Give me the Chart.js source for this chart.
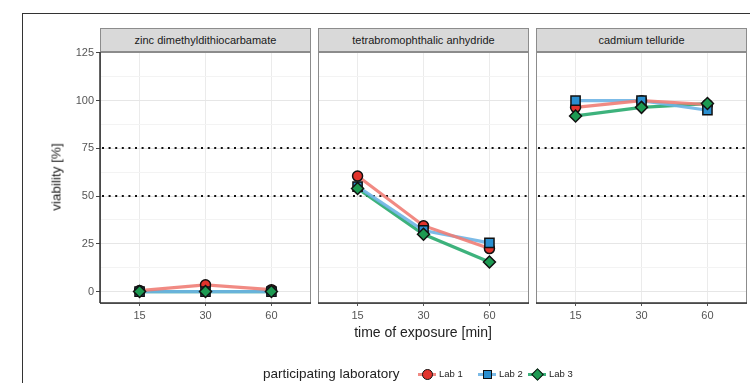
<!DOCTYPE html>
<html>
<head>
<meta charset="utf-8">
<script src="https://cdn.jsdelivr.net/npm/chart.js@4"></script>
<style>
  html, body { margin: 0; padding: 0; background: #fff; }
  body { width: 750px; height: 383px; position: relative; overflow: hidden;
         font-family: "Liberation Sans", Arial, sans-serif; }
  .frame { position: absolute; left: 22px; top: 13px; width: 800px; height: 420px;
           border-left: 1.5px solid #333; border-top: 1.5px solid #333; }
  .strip { position: absolute; top: 28px; height: 24px; background: #d9d9d9;
           border: 1px solid #8c8c8c; font-size: 11px; color: #1a1a1a;
           text-align: center; line-height: 23px; box-sizing: border-box; }
  canvas { position: absolute; }
  .ytitle { position: absolute; left: 56px; top: 177px; font-size: 13.5px; color: #222;
            transform: translate(-50%, -50%) rotate(-90deg); white-space: nowrap; }
  .xtitle { position: absolute; left: 423px; top: 332px; font-size: 14px; color: #222;
            transform: translate(-50%, -50%); white-space: nowrap; }
  .legend { position: absolute; left: 0; top: 367px; width: 750px; height: 14px; }
  .legend .title { position: absolute; left: 263px; top: 0; line-height: 14px;
                   font-size: 13.5px; color: #222; white-space: nowrap; }
  .legend .lab { position: absolute; top: 0; line-height: 14px; font-size: 9.5px;
                 color: #222; white-space: nowrap; }
  .key { position: absolute; top: 0; width: 18px; height: 14px; }
  .key .ln { position: absolute; left: 0; right: 0; top: 5.5px; height: 3px; }
  .key .mk { position: absolute; left: 50%; top: 50%; border: 1.5px solid #111; box-sizing: border-box; }
</style>
</head>
<body>
<div class="frame"></div>
<div id="panels"></div>
<div class="ytitle">viability [%]</div>
<div class="xtitle">time of exposure [min]</div>
<div class="legend" id="legend"></div>
<script>
// values, one row per chemical (15, 30, 60 min)
const exposure = ["15", "30", "60"];
const chemicals = ["zinc dimethyldithiocarbamate", "tetrabromophthalic anhydride", "cadmium telluride"];
const labs = ["Lab 1", "Lab 2", "Lab 3"];
const lab1 = [[0.5, 3.5, 1], [60.5, 34.5, 22.5], [96.5, 100, 98]];
const lab2 = [[0, 0, 0], [55, 32, 25.5], [100, 100, 95]];
const lab3 = [[0, 0, 0], [54, 30, 15.5], [92, 96.5, 98.5]];
const yTicks = [0, 25, 50, 75, 100, 125];
const yGrid = [0, 12.5, 25, 37.5, 50, 62.5, 75, 87.5, 100, 112.5, 125];
const thresholds = [50, 75];

const labData = [lab1, lab2, lab3];
const lineColors = ["rgba(240,125,118,0.9)", "rgba(110,180,228,0.9)", "rgba(40,170,110,0.9)"];
const fillColors = ["#e2332c", "#2a8fd0", "#1d9a52"];
const shapes = ["circle", "rect", "rectRot"];
const radii = [5, 6.5, 6];

const panelLeft = [100, 318, 536];
const panelW = 211, plotTop = 52, plotH = 251, padTop = 10, xAxisH = 30;
const tickFont = { family: "Liberation Sans", size: 11 };
const keyCenters = [427, 487, 537];

const panelDecor = {
  id: "panelDecor",
  beforeDatasetsDraw(chart) {
    const { ctx, chartArea: a, scales: { y } } = chart;
    ctx.save();
    ctx.strokeStyle = "#111";
    ctx.lineWidth = 2;
    ctx.setLineDash([2, 4.6]);
    thresholds.forEach((t) => {
      const py = Math.round(y.getPixelForValue(t));
      ctx.beginPath();
      ctx.moveTo(a.left + 2, py);
      ctx.lineTo(a.right, py);
      ctx.stroke();
    });
    ctx.restore();
  },
  afterDraw(chart) {
    const { ctx, chartArea: a } = chart;
    ctx.save();
    ctx.strokeStyle = "#8c8c8c";
    ctx.lineWidth = 1;
    ctx.strokeRect(a.left + 0.5, a.top + 0.5, a.right - a.left - 1, a.bottom - a.top);
    ctx.strokeStyle = "#333";
    ctx.lineWidth = 1.5;
    ctx.beginPath();
    ctx.moveTo(a.left, a.bottom);
    ctx.lineTo(a.right, a.bottom);
    if (chart.$first) {
      ctx.moveTo(a.left, a.top);
      ctx.lineTo(a.left, a.bottom);
    }
    ctx.stroke();
    ctx.restore();
  },
};

function makePanel(p) {
  const first = p === 0;
  const axisW = first ? 40 : 0;
  const canvas = document.createElement("canvas");
  canvas.width = axisW + panelW + 2;
  canvas.height = padTop + plotH + xAxisH;
  canvas.style.left = (panelLeft[p] - axisW) + "px";
  canvas.style.top = (plotTop - padTop) + "px";
  document.getElementById("panels").appendChild(canvas);

  const strip = document.createElement("div");
  strip.className = "strip";
  strip.style.left = panelLeft[p] + "px";
  strip.style.width = panelW + "px";
  strip.textContent = chemicals[p];
  document.getElementById("panels").appendChild(strip);

  const pts = (row) => row.map((v, i) => ({ x: i, y: v }));
  const lines = labData.map((d, k) => ({
    label: labs[k] + " line", data: pts(d[p]), borderColor: lineColors[k],
    borderWidth: 3.2, pointRadius: 0, order: 10 + k,
  }));
  const points = labData.map((d, k) => ({
    label: labs[k], data: pts(d[p]), showLine: false, pointStyle: shapes[k],
    pointRadius: radii[k], pointBackgroundColor: fillColors[k],
    pointBorderColor: "#111", pointBorderWidth: 1.5, order: 2 - k,
  }));

  const chart = new Chart(canvas, {
    type: "line",
    data: { datasets: [...lines, ...points] },
    options: {
      responsive: false,
      animation: false,
      layout: { autoPadding: false, padding: { top: padTop, right: 2, bottom: 0, left: 0 } },
      plugins: { legend: { display: false }, tooltip: { enabled: false } },
      scales: {
        x: {
          type: "linear", min: -0.6, max: 2.6,
          afterBuildTicks: (s) => { s.ticks = exposure.map((_, i) => ({ value: i })); },
          afterFit: (s) => { s.height = xAxisH; },
          border: { display: false },
          grid: { color: "#ebebeb", lineWidth: 1, tickLength: 3, tickColor: "#555" },
          ticks: { callback: (v) => exposure[v], color: "#555", padding: 3,
                   font: tickFont, maxRotation: 0 },
        },
        y: {
          min: -6, max: 125.5,
          afterBuildTicks: (s) => { s.ticks = yGrid.map((v) => ({ value: v })); },
          afterFit: (s) => { s.width = axisW; },
          border: { display: false },
          grid: {
            color: (c) => (yTicks.includes(c.tick.value) ? "#e6e6e6" : "#f3f3f3"),
            tickColor: (c) => (yTicks.includes(c.tick.value) ? "#444" : "rgba(0,0,0,0)"),
            drawTicks: first, tickLength: 4,
          },
          ticks: { display: first, color: "#555", padding: 2,
                   callback: (v) => (yTicks.includes(v) ? String(v) : ""),
                   font: tickFont },
        },
      },
    },
    plugins: [panelDecor],
  });
  chart.$first = first;
  chart.draw();
}

chemicals.forEach((_, p) => makePanel(p));

// legend
const legend = document.getElementById("legend");
legend.innerHTML = `<span class="title">participating laboratory</span>` +
  labs.map((l, k) => {
    const s = k === 0 ? "width:11px;height:11px;border-radius:50%;margin:-5.5px 0 0 -5.5px;"
            : k === 1 ? "width:9px;height:9px;margin:-4.5px 0 0 -4.5px;"
            : "width:9px;height:9px;margin:-4.5px 0 0 -4.5px;transform:rotate(45deg);";
    const c = keyCenters[k];
    return `<span class="key" style="left:${c - 9}px"><span class="ln" style="background:${lineColors[k]}"></span>` +
      `<span class="mk" style="${s}background:${fillColors[k]}"></span></span>` +
      `<span class="lab" style="left:${c + 12}px">${l}</span>`;
  }).join("");
</script>
</body>
</html>
